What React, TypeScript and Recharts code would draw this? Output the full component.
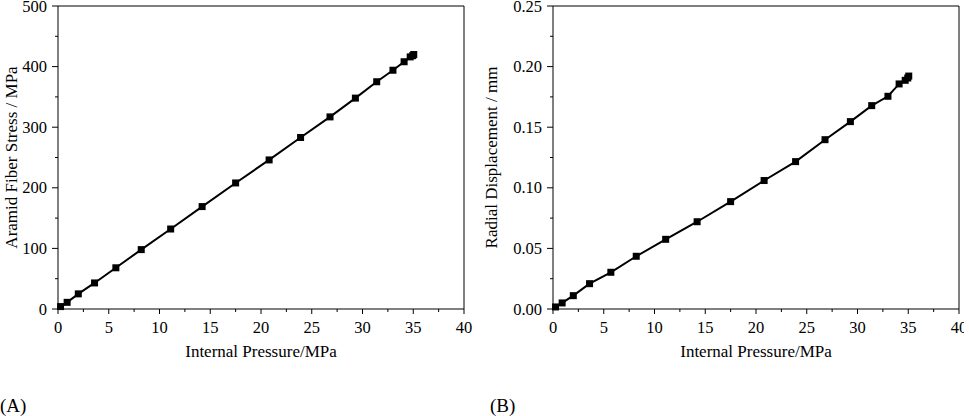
import { Label, Line, LineChart, ReferenceLine, XAxis, YAxis } from "recharts";

// Internal pressure (MPa) at each load step, shared by both panels
const PRESSURE = [0.25, 0.9, 2.0, 3.6, 5.7, 8.2, 11.1, 14.2, 17.5, 20.8, 23.9, 26.8, 29.3, 31.4, 33.0, 34.1, 34.7, 34.95, 35.05];
// Panel A: aramid fiber stress (MPa)
const FIBER_STRESS = [4, 11, 25, 43, 68, 98, 132, 169, 208, 246, 283, 317, 348, 375, 394, 408, 416, 418, 420];
// Panel B: radial displacement (mm)
const RADIAL_DISP = [0.0017, 0.005, 0.011, 0.0209, 0.0303, 0.0435, 0.0575, 0.072, 0.0886, 0.106, 0.1216, 0.1397, 0.1546, 0.1678, 0.1755, 0.1857, 0.1887, 0.1906, 0.1922];

// major + minor ticks (even index = labelled major)
const PRESSURE_TICKS = [0, 2.5, 5, 7.5, 10, 12.5, 15, 17.5, 20, 22.5, 25, 27.5, 30, 32.5, 35, 37.5, 40];
const STRESS_TICKS = [0, 50, 100, 150, 200, 250, 300, 350, 400, 450, 500];
const DISP_TICKS = [0, 0.025, 0.05, 0.075, 0.1, 0.125, 0.15, 0.175, 0.2, 0.225, 0.25];

const FONT = '"Liberation Serif", "Times New Roman", Times, serif';
const INK = "#000";

const stressData = PRESSURE.map((p, i) => ({ p, v: FIBER_STRESS[i] }));
const dispData = PRESSURE.map((p, i) => ({ p, v: RADIAL_DISP[i] }));

function XTick(props: any) {
  const { x, y, payload, index } = props;
  const major = index % 2 === 0;
  return (
    <g>
      <line x1={x} x2={x} y1={y} y2={y + (major ? 5 : 3)} stroke={INK} strokeWidth={1} />
      {major && (
        <text x={x} y={y + 24} textAnchor="middle" style={{ fontFamily: FONT, fontSize: 16.5 }} fill={INK}>
          {payload.value}
        </text>
      )}
    </g>
  );
}

function makeYTick(fmt: (v: number) => string) {
  return function YTick(props: any) {
    const { x, y, payload, index } = props;
    const major = index % 2 === 0;
    return (
      <g>
        <line x1={x} x2={x - (major ? 6 : 3)} y1={y} y2={y} stroke={INK} strokeWidth={1} />
        {major && (
          <text x={x - 11} y={y + 5.5} textAnchor="end" style={{ fontFamily: FONT, fontSize: 16.5 }} fill={INK}>
            {fmt(payload.value)}
          </text>
        )}
      </g>
    );
  };
}

function SquareDot(props: any) {
  const { cx, cy } = props;
  if (cx == null || cy == null) return null;
  return <rect x={cx - 3.5} y={cy - 3.5} width={7} height={7} fill={INK} />;
}

interface PanelProps {
  data: { p: number; v: number }[];
  yTicks: number[];
  yMax: number;
  yTitle: string;
  fmt: (v: number) => string;
  left: number;
  yAxisWidth: number;
  tag: string;
  tagLeft: number;
}

function Panel({ data, yTicks, yMax, yTitle, fmt, left, yAxisWidth, tag, tagLeft }: PanelProps) {
  const YTick = makeYTick(fmt);
  return (
    <div style={{ position: "absolute", left, top: 0, width: 484, height: 416 }}>
      <LineChart width={484} height={416} data={data} margin={{ top: 6, right: 484 - 10 - yAxisWidth - 406, bottom: 77, left: 10 }}>
        <XAxis
          dataKey="p"
          type="number"
          domain={[0, 40]}
          ticks={PRESSURE_TICKS}
          interval={0}
          tickSize={0}
          tickMargin={0}
          tickLine={false}
          tick={<XTick />}
          height={30}
          axisLine={{ stroke: INK, strokeWidth: 1 }}
        >
          <Label
            value="Internal Pressure/MPa"
            position="bottom"
            offset={6}
            style={{ fontFamily: FONT, fontSize: 17, fill: INK }}
          />
        </XAxis>
        <YAxis
          type="number"
          domain={[0, yMax]}
          ticks={yTicks}
          interval={0}
          tickSize={0}
          tickMargin={0}
          tickLine={false}
          tick={<YTick />}
          width={yAxisWidth}
          axisLine={{ stroke: INK, strokeWidth: 1 }}
        >
          <Label
            value={yTitle}
            angle={-90}
            position="insideLeft"
            offset={1}
            style={{ fontFamily: FONT, fontSize: 17, fill: INK, textAnchor: "middle" }}
          />
        </YAxis>
        <ReferenceLine y={yMax} stroke={INK} strokeWidth={1} />
        <ReferenceLine x={40} stroke={INK} strokeWidth={1} />
        <Line
          type="linear"
          dataKey="v"
          stroke={INK}
          strokeWidth={2}
          dot={<SquareDot />}
          activeDot={false}
          isAnimationActive={false}
        />
      </LineChart>
      <div style={{ position: "absolute", left: tagLeft, top: 395, fontFamily: FONT, fontSize: 19, lineHeight: "22px", color: INK }}>{tag}</div>
    </div>
  );
}

export default function App() {
  return (
    <div style={{ position: "absolute", left: 0, top: 0, width: 969, height: 416, background: "#fff", overflow: "hidden" }}>
      <Panel
        data={stressData}
        yTicks={STRESS_TICKS}
        yMax={500}
        yTitle="Aramid Fiber Stress / MPa"
        fmt={(v) => String(v)}
        left={0}
        yAxisWidth={48}
        tag="(A)"
        tagLeft={0}
      />
      <Panel
        data={dispData}
        yTicks={DISP_TICKS}
        yMax={0.25}
        yTitle="Radial Displacement / mm"
        fmt={(v) => v.toFixed(2)}
        left={480}
        yAxisWidth={63}
        tag="(B)"
        tagLeft={10}
      />
    </div>
  );
}
